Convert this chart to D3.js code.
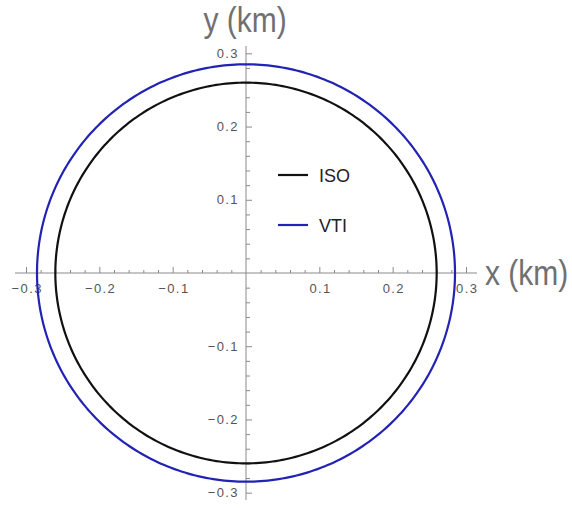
<!DOCTYPE html>
<html>
<head>
<meta charset="utf-8">
<script src="https://cdn.jsdelivr.net/npm/d3@7"></script>
<style>
  html, body { margin: 0; padding: 0; background: #fff; }
  svg { display: block; }
  .tick text { font-family: "Liberation Sans", Arial, sans-serif; font-size: 13px; fill: #555; letter-spacing: 1.4px; }
</style>
</head>
<body>
<svg id="chart" width="572" height="509"></svg>
<script>
// Curve names, radii (km) and stroke colours
const series = ["ISO", "VTI"];
const radii = [0.26, 0.285];
const colors = ["#111111", "#2222b4"];

// Axis tick values
const majorTicks = [-0.3, -0.2, -0.1, 0.1, 0.2, 0.3];
const minorTicks = d3.range(-30, 31, 2).map(d => d / 100).filter(d => Math.abs(d) > 1e-9 && Math.abs(Math.round(d * 10) - d * 10) > 1e-6);
const tickLabels = ["\u22120.3", "\u22120.2", "\u22120.1", "0.1", "0.2", "0.3"];

const svg = d3.select("#chart");
const ox = 246, oy = 273, half = 231;

const x = d3.scaleLinear().domain([-0.315, 0.315]).range([ox - half, ox + half]);
const y = d3.scaleLinear().domain([-0.31, 0.31]).range([oy + 227, oy - 227]);

const axisColor = "#8a8a8a";
const font = "Liberation Sans, Arial, sans-serif";

// x axis (ticks point upward)
const gx = svg.append("g").attr("transform", `translate(0,${y(0)})`);
gx.call(d3.axisBottom(x).tickValues(minorTicks).tickSize(-3).tickFormat(""));
gx.call(g => g.select(".domain").remove());
const gxMaj = svg.append("g").attr("transform", `translate(0,${y(0)})`);
gxMaj.call(d3.axisBottom(x).tickValues(majorTicks).tickSize(-6).tickSizeOuter(0)
  .tickFormat((d, i) => tickLabels[i]));
gxMaj.selectAll(".tick text").attr("y", 20).attr("dy", 0).attr("dx", 0.7);
[gx, gxMaj].forEach(g => {
  g.selectAll("line").attr("stroke", axisColor);
  g.selectAll(".domain").attr("stroke", axisColor);
});
gxMaj.select(".domain").attr("d", `M${x.range()[0]},0H${x.range()[1]}`);

// y axis (ticks point right)
const gy = svg.append("g").attr("transform", `translate(${x(0)},0)`);
gy.call(d3.axisLeft(y).tickValues(minorTicks).tickSize(-4).tickFormat(""));
gy.call(g => g.select(".domain").remove());
const gyMaj = svg.append("g").attr("transform", `translate(${x(0)},0)`);
gyMaj.call(d3.axisLeft(y).tickValues(majorTicks).tickSize(-6).tickSizeOuter(0)
  .tickFormat((d, i) => tickLabels[i]));
gyMaj.selectAll(".tick text").attr("x", -7);
[gy, gyMaj].forEach(g => {
  g.selectAll("line").attr("stroke", axisColor);
  g.selectAll(".domain").attr("stroke", axisColor);
});
gyMaj.select(".domain").attr("d", `M0,${y.range()[0]}V${y.range()[1]}`);

// Circles
const angles = d3.range(0, 361, 1).map(a => a * Math.PI / 180);
const line = d3.line().x(d => x(d[0])).y(d => y(d[1]));
series.forEach((name, i) => {
  const r = radii[i];
  svg.append("path")
    .attr("d", line(angles.map(t => [r * Math.cos(t), r * Math.sin(t)])))
    .attr("fill", "none")
    .attr("stroke", colors[i])
    .attr("stroke-width", 2.2);
});

// Legend
const legend = svg.append("g").attr("transform", "translate(278,175)");
series.forEach((name, i) => {
  const g = legend.append("g").attr("transform", `translate(0,${i * 50})`);
  g.append("line").attr("x1", 0).attr("x2", 30).attr("y1", 0).attr("y2", 0)
    .attr("stroke", colors[i]).attr("stroke-width", 2.2);
  g.append("text").attr("x", 41).attr("y", 6.5)
    .attr("font-family", font)
    .attr("font-size", 18).attr("fill", "#222").text(name);
});

// Axis titles (tall lettering)
svg.append("g").attr("transform", "translate(245,32) scale(1,1.17)")
  .append("text").attr("text-anchor", "middle")
  .attr("font-family", font).attr("font-size", 30)
  .attr("fill", "#707070").text("y (km)");
svg.append("g").attr("transform", "translate(485,285) scale(1,1.17)")
  .append("text")
  .attr("font-family", font).attr("font-size", 30)
  .attr("fill", "#707070").text("x (km)");
</script>
</body>
</html>
